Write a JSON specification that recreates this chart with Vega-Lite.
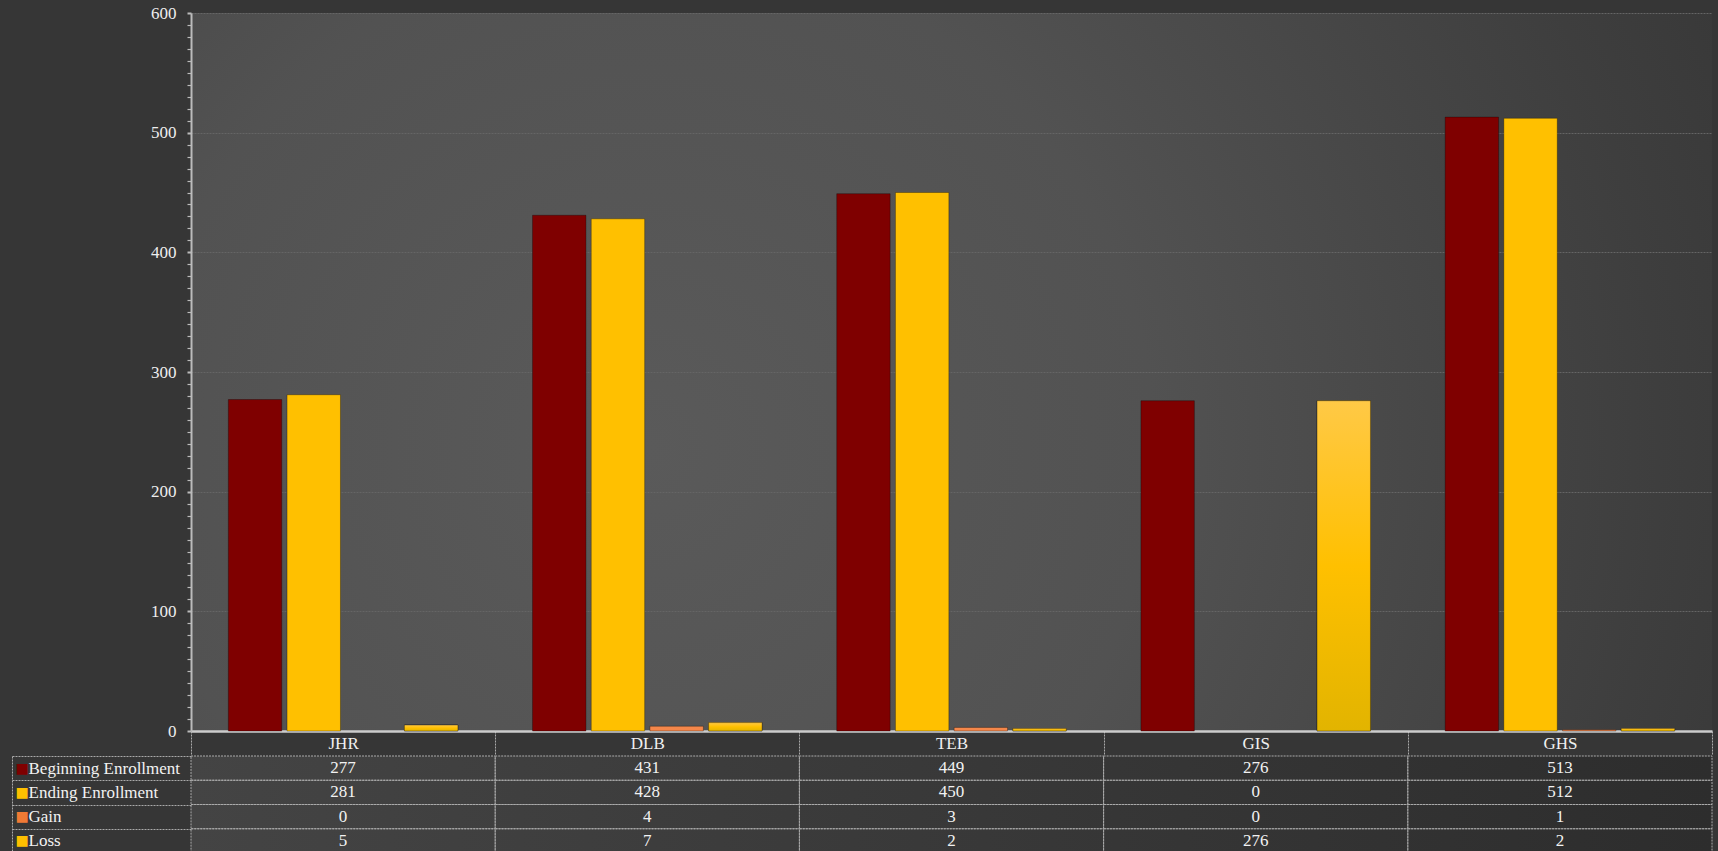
{
  "$schema": "https://vega.github.io/schema/vega-lite/v6.json",
  "background": "#363636",
  "padding": {"left": 11, "top": 4, "right": 6, "bottom": 0},
  "data": {
    "values": [
      {"school": "JHR", "Beginning Enrollment": 277, "Ending Enrollment": 281, "Gain": 0, "Loss": 5},
      {"school": "DLB", "Beginning Enrollment": 431, "Ending Enrollment": 428, "Gain": 4, "Loss": 7},
      {"school": "TEB", "Beginning Enrollment": 449, "Ending Enrollment": 450, "Gain": 3, "Loss": 2},
      {"school": "GIS", "Beginning Enrollment": 276, "Ending Enrollment": 0, "Gain": 0, "Loss": 276},
      {"school": "GHS", "Beginning Enrollment": 513, "Ending Enrollment": 512, "Gain": 1, "Loss": 2}
    ]
  },
  "transform": [
    {"fold": ["Beginning Enrollment", "Ending Enrollment", "Gain", "Loss"], "as": ["series", "value"]}
  ],
  "spacing": -8,
  "vconcat": [
    {
      "width": 1521,
      "height": 718,
      "view": {
        "stroke": null,
        "fill": {
          "gradient": "radial",
          "x1": 0.3, "y1": 0.55, "r1": 0,
          "x2": 0.3, "y2": 0.55, "r2": 0.95,
          "stops": [
            {"offset": 0, "color": "#5a5a5a"},
            {"offset": 0.35, "color": "#525252"},
            {"offset": 0.7, "color": "#3e3e3e"},
            {"offset": 1, "color": "#2f2f2f"}
          ]
        }
      },
      "encoding": {
        "x": {
          "field": "school", "type": "nominal",
          "scale": {"domain": ["JHR", "DLB", "TEB", "GIS", "GHS"], "paddingInner": 0, "paddingOuter": 0},
          "axis": {
            "title": null, "orient": "bottom", "grid": false,
            "domain": true, "domainColor": "#cccccc", "domainWidth": 2.5,
            "ticks": true, "tickBand": "extent", "tickSize": 23, "tickColor": "#aaaaaa", "tickWidth": 1, "tickDash": [2, 1],
            "labelAngle": 0, "labelFont": "Liberation Serif", "labelFontSize": 17, "labelColor": "#f0f0f0",
            "labelBaseline": "middle", "labelPadding": -11
          }
        },
        "xOffset": {
          "field": "series", "type": "nominal",
          "scale": {"domain": ["Beginning Enrollment", "Ending Enrollment", "Gain", "Loss"], "paddingInner": 0.09, "paddingOuter": 0.636}
        },
        "y": {
          "field": "value", "type": "quantitative",
          "scale": {"domain": [0, 600], "nice": false},
          "axis": {
            "title": null,
            "values": [0,10,20,30,40,50,60,70,80,90,100,110,120,130,140,150,160,170,180,190,200,210,220,230,240,250,260,270,280,290,300,310,320,330,340,350,360,370,380,390,400,410,420,430,440,450,460,470,480,490,500,510,520,530,540,550,560,570,580,590,600],
            "labelExpr": "datum.value % 100 === 0 ? datum.label : ''",
            "labelOverlap": false,
            "labelFont": "Liberation Serif", "labelFontSize": 17, "labelColor": "#eeeeee", "labelPadding": 11,
            "tickSize": 4, "tickColor": "#bbbbbb",
            "tickWidth": {"condition": {"test": "datum.value % 100 === 0", "value": 2}, "value": 1.2},
            "domainColor": "#bbbbbb", "domainWidth": 2,
            "grid": true, "gridColor": "#656565", "gridWidth": 1.2, "gridDash": [2, 1],
            "gridOpacity": {"condition": {"test": "datum.value % 100 === 0 && datum.value > 0", "value": 1}, "value": 0},
            "minExtent": 179
          }
        }
      },
      "layer": [
        {
          "transform": [{"filter": "datum.value > 0"}],
          "mark": {"type": "bar", "stroke": "#000000", "strokeOpacity": 0.3, "strokeWidth": 1},
          "encoding": {
            "color": {
              "field": "series", "type": "nominal",
              "scale": {"domain": ["Beginning Enrollment", "Ending Enrollment", "Gain", "Loss"], "range": ["#7f0000", "#ffc000", "#f5874a", "#ffc21a"]},
              "legend": null
            }
          }
        },
        {
          "transform": [{"filter": "datum.series === 'Loss' && datum.value > 0"}],
          "mark": {
            "type": "bar", "stroke": "#000000", "strokeOpacity": 0.3, "strokeWidth": 1,
            "fill": {
              "gradient": "linear", "x1": 0, "y1": 0, "x2": 0, "y2": 1,
              "stops": [
                {"offset": 0, "color": "#ffc946"},
                {"offset": 0.5, "color": "#ffc000"},
                {"offset": 1, "color": "#e2b400"}
              ]
            }
          }
        }
      ]
    },
    {
      "width": 1521,
      "height": 97,
      "view": {
        "stroke": null,
        "fill": {
          "gradient": "linear", "x1": 0, "y1": 0, "x2": 1, "y2": 0,
          "stops": [
            {"offset": 0, "color": "#444444"},
            {"offset": 1, "color": "#2d2d2d"}
          ]
        }
      },
      "encoding": {
        "x": {
          "field": "school", "type": "nominal",
          "scale": {"domain": ["JHR", "DLB", "TEB", "GIS", "GHS"], "paddingInner": 0, "paddingOuter": 0},
          "axis": null
        }
      },
      "layer": [
        {
          "mark": {"type": "rect", "fillOpacity": 0, "stroke": "#aaaaaa", "strokeDash": [2, 1], "strokeWidth": 1},
          "encoding": {
            "y": {
              "field": "series", "type": "nominal",
              "scale": {"domain": ["Beginning Enrollment", "Ending Enrollment", "Gain", "Loss"], "paddingInner": 0, "paddingOuter": 0},
              "axis": {
                "title": null, "orient": "left", "grid": false, "domain": false,
                "ticks": true, "tickBand": "extent", "tickSize": 179, "tickColor": "#aaaaaa", "tickDash": [2, 1], "tickWidth": 1,
                "labelAlign": "left", "labelBaseline": "middle", "labelPadding": -16,
                "labelFont": "Liberation Serif", "labelFontSize": 17, "labelColor": "#f2f2f2", "labelLimit": 0
              }
            }
          }
        },
        {
          "mark": {"type": "text", "font": "Liberation Serif", "fontSize": 17, "color": "#f2f2f2", "baseline": "middle"},
          "encoding": {
            "y": {
              "field": "series", "type": "nominal",
              "scale": {"domain": ["Beginning Enrollment", "Ending Enrollment", "Gain", "Loss"], "paddingInner": 0, "paddingOuter": 0},
              "axis": {
                "title": null, "orient": "left", "offset": 179, "grid": false,
                "domain": true, "domainColor": "#aaaaaa", "domainDash": [2, 1], "domainWidth": 1,
                "ticks": false,
                "labelExpr": "'■'", "labelAlign": "left", "labelBaseline": "middle", "labelPadding": -3,
                "labelFont": "DejaVu Sans", "labelFontSize": 14,
                "labelColor": {
                  "condition": [
                    {"test": "datum.value === 'Beginning Enrollment'", "value": "#7f0000"},
                    {"test": "datum.value === 'Gain'", "value": "#f07a35"}
                  ],
                  "value": "#ffc000"
                }
              }
            },
            "text": {"field": "value", "type": "quantitative"}
          }
        }
      ],
      "resolve": {"scale": {"y": "independent"}, "axis": {"y": "independent"}}
    }
  ],
  "config": {
    "view": {"stroke": null},
    "font": "Liberation Serif"
  }
}
